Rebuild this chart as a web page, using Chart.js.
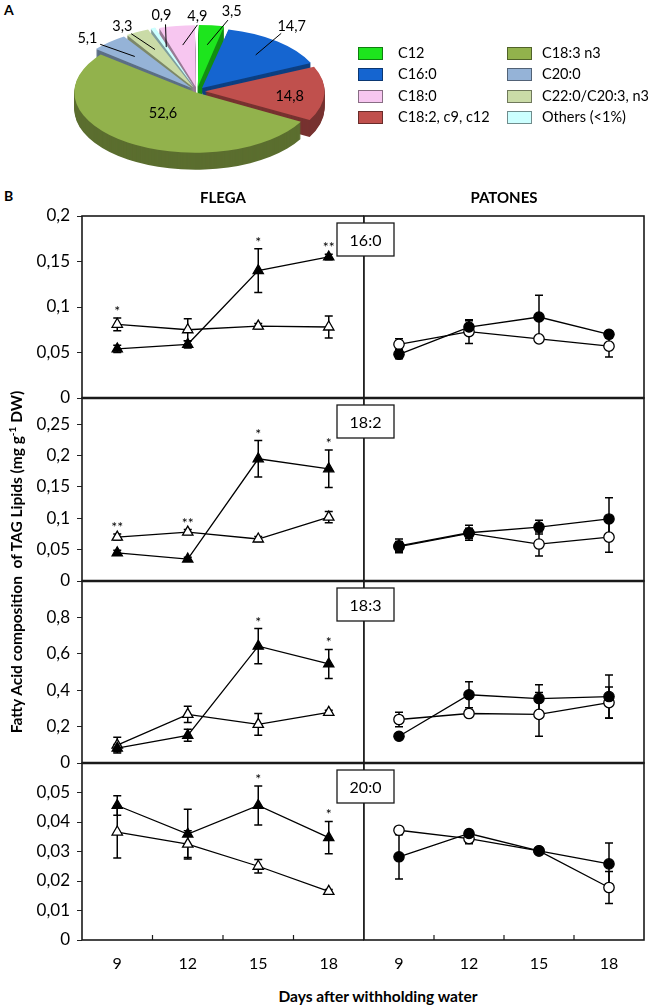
<!DOCTYPE html>
<html>
<head>
<meta charset="utf-8">
<script src="https://cdn.jsdelivr.net/npm/chart.js@4.4.1/dist/chart.umd.min.js"></script>
<style>
  body { margin: 0; background: #fff; font-family: Lato, "Open Sans", sans-serif; color: #000; }
  #page { position: relative; width: 656px; height: 1006px; overflow: hidden; }
  canvas, .abs { position: absolute; }
  .panel { font-weight: bold; font-size: 14px; }
  .ytitle { left: -198px; top: 553px; width: 420px; height: 18px; line-height: 18px; text-align: center;
            font-weight: bold; font-size: 15.5px; transform: rotate(-90deg); white-space: nowrap; }
  .ytitle sup { font-size: 10px; }
  .xtitle { left: 178px; top: 987px; width: 400px; text-align: center; font-weight: bold; font-size: 15.5px; }
  .leg { font-size: 14.5px; line-height: 18px; white-space: nowrap; }
  .leg span { position: absolute; top: 3px; width: 23px; height: 11px; border: 1px solid rgba(0,0,0,0.45); }
</style>
</head>
<body>
<div id="page">
  <div class="abs panel" style="left:4px;top:1px">A</div>
  <div class="abs panel" style="left:4px;top:187px">B</div>
  <canvas id="pie" width="394" height="182" style="left:0;top:0"></canvas>
  <div id="legend"></div>
  <canvas id="flega" width="364" height="791" style="left:0;top:185px"></canvas>
  <canvas id="patones" width="326" height="791" style="left:330px;top:185px"></canvas>
  <div class="abs ytitle">Fatty Acid composition&nbsp; of TAG Lipids (mg g<sup>-1</sup> DW)</div>
  <div class="abs xtitle">Days after withholding water</div>
</div>
<script>
// ---- panel A data ----
const pieLabels = ['C12', 'C16:0', 'C18:2, c9, c12', 'C18:3 n3', 'C20:0', 'C22:0/C20:3, n3', 'Others (<1%)', 'C18:0'];
const pieValues = [3.5, 14.7, 14.8, 52.6, 5.1, 3.3, 0.9, 4.9];
const pieColors = ['#1de51d', '#1565d0', '#c0504d', '#92b24c', '#95b3d7', '#cadba7', '#ccffff', '#f7c6f0'];
const legendOrder = [0, 1, 7, 2, 3, 4, 5, 6];

// ---- panel B data ----
const days = ['9', '12', '15', '18'];
const acids = ['16:0', '18:2', '18:3', '20:0'];
const yMax = [0.2, 0.292, 1, 0.06];
const yStep = [0.05, 0.05, 0.2, 0.01];

const flegaSolid = [
  [0.054, 0.059, 0.140, 0.155],
  [0.045, 0.035, 0.195, 0.179],
  [0.082, 0.152, 0.642, 0.544],
  [0.0456, 0.0359, 0.0456, 0.0347]
];
const flegaSolidSd = [
  [0.004, 0.004, 0.024, 0.003],
  [0.004, 0.003, 0.029, 0.030],
  [0.020, 0.033, 0.097, 0.080],
  [0.0033, 0.0084, 0.0066, 0.0055]
];
const flegaOpen = [
  [0.081, 0.075, 0.079, 0.078],
  [0.070, 0.078, 0.067, 0.102],
  [0.098, 0.267, 0.212, 0.278],
  [0.0366, 0.0325, 0.0250, 0.0165]
];
const flegaOpenSd = [
  [0.007, 0.012, 0.003, 0.012],
  [0.005, 0.004, 0.004, 0.009],
  [0.043, 0.045, 0.060, 0.012],
  [0.0088, 0.0045, 0.0023, 0.0006]
];
const patonesSolid = [
  [0.048, 0.078, 0.089, 0.070],
  [0.056, 0.077, 0.086, 0.099],
  [0.147, 0.375, 0.354, 0.365],
  [0.0282, 0.0361, 0.0302, 0.0258]
];
const patonesSolidSd = [
  [0.005, 0.007, 0.024, 0.004],
  [0.011, 0.012, 0.011, 0.034],
  [0.010, 0.071, 0.076, 0.119],
  [0.0075, 0.0010, 0.0005, 0.0071]
];
const patonesOpen = [
  [0.059, 0.073, 0.065, 0.057],
  [0.055, 0.076, 0.059, 0.070],
  [0.239, 0.272, 0.267, 0.332],
  [0.0372, 0.0344, 0.0302, 0.0178]
];
const patonesOpenSd = [
  [0.006, 0.013, 0.003, 0.012],
  [0.008, 0.008, 0.019, 0.024],
  [0.040, 0.020, 0.120, 0.085],
  [0.0005, 0.0018, 0.0005, 0.0054]
];
const flegaStars = [
  ['*', '', '*', '**'],
  ['**', '**', '*', '*'],
  ['', '', '*', '*'],
  ['', '', '*', '*']
];
const patonesStars = [
  ['', '', '', ''],
  ['', '', '', ''],
  ['', '', '', ''],
  ['', '', '', '']
];

// ---- look ----
const rowHeights = [182, 183, 182, 177];
const pieSquash = 0.5;
const pieDepth = 17;
const pieOffsets = [32, 32, 32, 12, 32, 32, 32, 32];
const pieLabelRadius = [1.38, 1.36, 0.79, 0.48, 1.29, 1.27, 1.31, 1.27];
const pieLabelTurn = [6, -3, 4, 3, -4, -3, 6, 9];
const pieLeader = [true, true, false, false, true, true, true, true];

Chart.defaults.font.family = "Lato, 'Open Sans', sans-serif";
Chart.defaults.color = '#000';

const fmt = v => String(parseFloat(Number(v).toFixed(4))).replace('.', ',');

function shade(hex, f) {
  const n = parseInt(hex.slice(1), 16);
  const r = Math.round(((n >> 16) & 255) * f), g = Math.round(((n >> 8) & 255) * f), b = Math.round((n & 255) * f);
  return `rgb(${r},${g},${b})`;
}

// legend for panel A
const legendBox = document.getElementById('legend');
legendOrder.forEach((idx, k) => {
  const col = Math.floor(k / 4), row = k % 4;
  const item = document.createElement('div');
  item.className = 'abs leg';
  item.style.left = (col ? 507 : 358) + 'px';
  item.style.top = (44 + row * 21.4) + 'px';
  item.style.paddingLeft = (col ? 35 : 40) + 'px';
  item.innerHTML = `<span style="left:0;background:${pieColors[idx]}"></span>`;
  item.appendChild(document.createTextNode(pieLabels[idx]));
  legendBox.appendChild(item);
});

// squashed pie with a side wall, then value labels
const pie3d = {
  id: 'pie3d',
  beforeDatasetsDraw(chart) {
    const ctx = chart.ctx;
    const arcs = chart.getDatasetMeta(0).data;
    const cx = arcs[0].x, cy = arcs[0].y;
    ctx.save();
    ctx.translate(cx, cy);
    ctx.scale(1, pieSquash);
    ctx.translate(-cx, -cy);
    for (let d = pieDepth; d >= 1; d--) {
      ctx.save();
      ctx.translate(0, d / pieSquash);
      arcs.forEach((arc, i) => {
        const side = Object.create(arc);
        side.options = Object.assign({}, arc.options, { backgroundColor: shade(pieColors[i], 0.62), borderWidth: 0 });
        arc.draw.call(side, ctx);
      });
      ctx.restore();
    }
  },
  afterDatasetsDraw(chart) {
    const ctx = chart.ctx;
    ctx.restore();
    const arcs = chart.getDatasetMeta(0).data;
    const cx = arcs[0].x, cy = arcs[0].y;
    ctx.save();
    ctx.font = "14.5px Lato, 'Open Sans', sans-serif";
    ctx.fillStyle = '#000';
    ctx.strokeStyle = '#000';
    ctx.lineWidth = 1;
    ctx.textAlign = 'center';
    ctx.textBaseline = 'middle';
    arcs.forEach((arc, i) => {
      const R = arc.outerRadius;
      const mid = (arc.startAngle + arc.endAngle) / 2;
      const a = mid + pieLabelTurn[i] * Math.PI / 180;
      const f = pieLabelRadius[i];
      if (pieLeader[i]) {
        const r0 = R * 0.72 + 8, r1 = R * (f - 0.15);
        ctx.beginPath();
        ctx.moveTo(cx + Math.cos(mid) * r0, cy + Math.sin(mid) * r0 * pieSquash);
        ctx.lineTo(cx + Math.cos(a) * r1, cy + Math.sin(a) * r1 * pieSquash);
        ctx.stroke();
      }
      ctx.fillText(fmt(pieValues[i]), cx + Math.cos(a) * R * f, cy + Math.sin(a) * R * f * pieSquash);
    });
    ctx.restore();
  }
};

new Chart(document.getElementById('pie'), {
  type: 'pie',
  data: {
    labels: pieLabels,
    datasets: [{ data: pieValues, backgroundColor: pieColors, borderWidth: 0, offset: pieOffsets, radius: 118, clip: false }]
  },
  options: {
    responsive: false,
    animation: false,
    events: [],
    plugins: { legend: { display: false }, tooltip: { enabled: false } }
  },
  plugins: [pie3d]
});

// error bars, frames, stars and acid boxes for panel B
const panelDecor = {
  id: 'panelDecor',
  beforeDatasetsDraw(chart) {
    const ctx = chart.ctx, xs = chart.scales.x;
    ctx.save();
    ctx.strokeStyle = '#000';
    ctx.lineWidth = 1.5;
    chart.data.datasets.forEach(ds => {
      const ys = chart.scales[ds.yAxisID];
      ds.data.forEach((v, i) => {
        const x = xs.getPixelForValue(i);
        const t = ys.getPixelForValue(v + ds.sd[i]), b = ys.getPixelForValue(v - ds.sd[i]);
        ctx.beginPath();
        ctx.moveTo(x, t); ctx.lineTo(x, b);
        ctx.moveTo(x - 4, t); ctx.lineTo(x + 4, t);
        ctx.moveTo(x - 4, b); ctx.lineTo(x + 4, b);
        ctx.stroke();
      });
    });
    ctx.restore();
  },
  afterDraw(chart, args, opts) {
    const ctx = chart.ctx, xs = chart.scales.x, area = chart.chartArea;
    ctx.save();
    ctx.strokeStyle = '#1a1a1a';
    acids.forEach((acid, r) => {
      const ys = chart.scales['y' + r];
      ctx.lineWidth = 1.6;
      ctx.strokeRect(area.left, ys.top, area.right - area.left, ys.bottom - ys.top);
      if (r > 0) {
        ctx.lineWidth = 2.4;
        ctx.beginPath();
        ctx.moveTo(area.left, ys.top); ctx.lineTo(area.right, ys.top);
        ctx.stroke();
      }
      // significance marks above the highest whisker
      const rowSets = chart.data.datasets.filter(ds => ds.yAxisID === 'y' + r);
      ctx.fillStyle = '#000';
      ctx.font = "14px Lato, 'Open Sans', sans-serif";
      ctx.textAlign = 'center';
      ctx.textBaseline = 'alphabetic';
      opts.stars[r].forEach((s, i) => {
        if (!s) return;
        const top = Math.min(...rowSets.map(ds => ys.getPixelForValue(ds.data[i] + ds.sd[i])));
        ctx.fillText(s, xs.getPixelForValue(i), top - 2);
      });
      if (opts.boxes) {
        const w = 57, h = 33, bx = area.left + 1.5 - w / 2, by = ys.top + 7;
        ctx.fillStyle = '#fff';
        ctx.fillRect(bx, by, w, h);
        ctx.lineWidth = 1.3;
        ctx.strokeRect(bx, by, w, h);
        ctx.fillStyle = '#000';
        ctx.font = "16px Lato, 'Open Sans', sans-serif";
        ctx.textBaseline = 'middle';
        ctx.fillText(acid, bx + w / 2, by + h / 2 + 1);
      }
    });
    // small inner ticks between days on the bottom axis
    ctx.lineWidth = 1.2;
    ctx.beginPath();
    for (let i = 0; i < days.length - 1; i++) {
      const x = (xs.getPixelForValue(i) + xs.getPixelForValue(i + 1)) / 2;
      ctx.moveTo(x, area.bottom);
      ctx.lineTo(x, area.bottom - 5);
    }
    ctx.stroke();
    ctx.restore();
  }
};

function buildPanel(id, title, solid, solidSd, open, openSd, stars, marker, showAxis, padding, boxes) {
  const datasets = [];
  acids.forEach((acid, r) => {
    datasets.push({
      label: acid, data: solid[r], sd: solidSd[r], yAxisID: 'y' + r,
      borderColor: '#000', borderWidth: 1.3, tension: 0,
      pointStyle: marker, pointRadius: marker === 'triangle' ? 6 : 5.2,
      pointBackgroundColor: '#000', pointBorderColor: '#000', pointBorderWidth: 1.2
    });
    datasets.push({
      label: acid, data: open[r], sd: openSd[r], yAxisID: 'y' + r,
      borderColor: '#000', borderWidth: 1.3, tension: 0,
      pointStyle: marker, pointRadius: marker === 'triangle' ? 6 : 5.2,
      pointBackgroundColor: '#fff', pointBorderColor: '#000', pointBorderWidth: 1.3
    });
  });

  const scales = {
    x: {
      type: 'category', offset: true,
      grid: { display: false, drawTicks: false }, border: { display: false },
      ticks: { font: { size: 16 }, color: '#000', padding: 14 },
      afterFit: s => { s.height = 36; s.paddingLeft = 0; s.paddingRight = 0; }
    }
  };
  acids.forEach((acid, r) => {
    scales['y' + r] = {
      type: 'linear', position: 'left', stack: 'rows', stackWeight: rowHeights[r], weight: acids.length - r,
      min: 0, max: yMax[r],
      ticks: {
        display: showAxis, stepSize: yStep[r], includeBounds: false, autoSkip: false,
        padding: 7, font: { size: 17 }, color: '#000',
        callback: v => (r > 0 && Math.abs(v - yMax[r]) < 1e-9) ? '' : fmt(v)
      },
      grid: { display: showAxis, drawOnChartArea: false, drawTicks: true, tickLength: 5, color: '#222' },
      border: { display: false },
      afterFit: s => { s.width = showAxis ? 82 : 0; }
    };
  });

  return new Chart(document.getElementById(id), {
    type: 'line',
    data: { labels: days, datasets },
    options: {
      responsive: false,
      animation: false,
      events: [],
      layout: { padding, autoPadding: false },
      scales,
      plugins: {
        legend: { display: false },
        tooltip: { enabled: false },
        title: {
          display: true, text: title, fullSize: false, color: '#000',
          font: { size: 15, weight: 'bold' }, padding: { top: 4, bottom: 9 }
        },
        panelDecor: { stars, boxes }
      }
    },
    plugins: [panelDecor]
  });
}

buildPanel('flega', 'FLEGA', flegaSolid, flegaSolidSd, flegaOpen, flegaOpenSd, flegaStars, 'triangle', true,
  { left: 0, right: 0, top: 0, bottom: 0 }, false);
buildPanel('patones', 'PATONES', patonesSolid, patonesSolidSd, patonesOpen, patonesOpenSd, patonesStars, 'circle', false,
  { left: 34, right: 12, top: 0, bottom: 0 }, true);
</script>
</body>
</html>
